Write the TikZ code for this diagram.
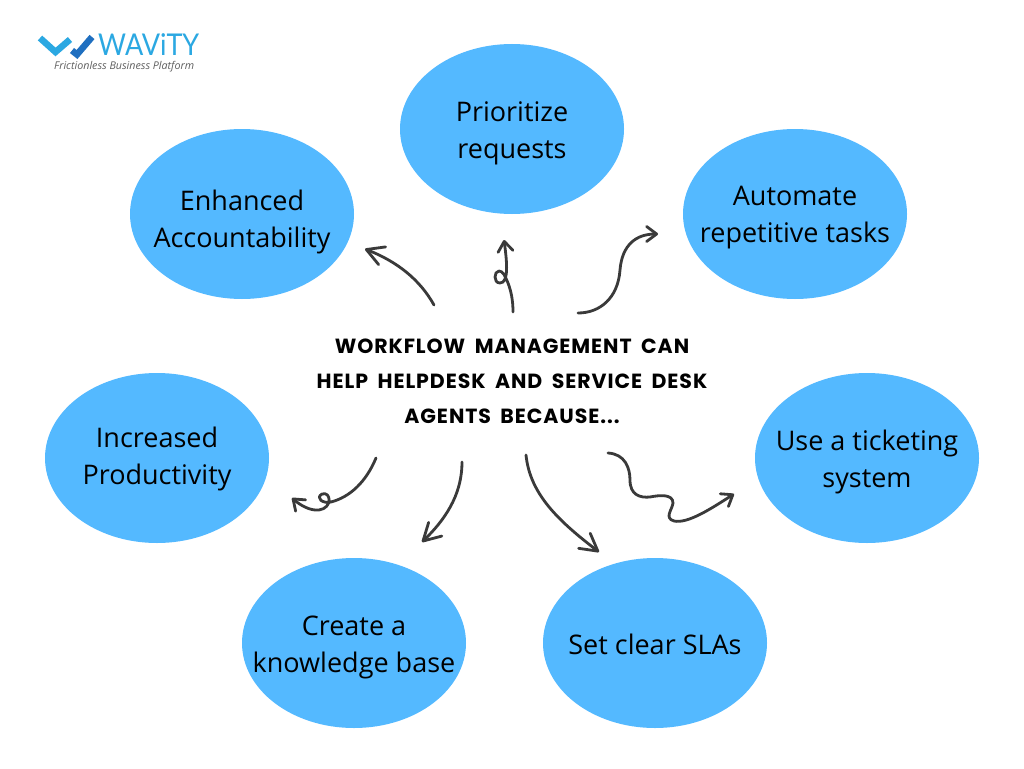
\documentclass[tikz,border=0pt]{standalone}
\usepackage{fontspec}
\setmainfont{Open Sans}
\newfontfamily\titlefont[LetterSpace=4.5,WordSpace=1.8]{Poppins}
\newfontfamily\logofont{Lato}
\usetikzlibrary{shapes.geometric,arrows.meta}
\definecolor{bubble}{HTML}{54B9FF}
\definecolor{ink}{HTML}{3A3A3A}
\definecolor{logolight}{HTML}{2BA8E2}
\definecolor{logodark}{HTML}{1F6FC0}
\definecolor{logogray}{HTML}{5F5F5F}
\newcommand{\bubbletext}[2]{\makebox[0pt]{\raisebox{\dimexpr-#1pt-9.7pt\relax}[0pt][0pt]{\begin{tabular}{@{}c@{}}#2\end{tabular}}}}
\tikzset{
  bubblenode/.style={ellipse,fill=bubble,minimum width=224pt,minimum height=170pt,inner sep=0pt,
    align=center,text=black,font=\fontsize{27}{37}\selectfont},
  flow/.style={draw=ink,line width=2.8pt,line cap=round,line join=round,
    -{Straight Barb[length=10pt,width=15pt,line width=2.8pt,round]}},
  flowbig/.style={draw=ink,line width=2.8pt,line cap=round,line join=round,
    -{Straight Barb[length=17pt,width=19pt,line width=2.8pt,round]}},
  logomark/.style={line width=6.5pt,line cap=butt,line join=miter}
}
\begin{document}
\begin{tikzpicture}[x=1pt,y=-1pt]
\useasboundingbox (0,0) rectangle (1024,768);
\fill[white] (0,0) rectangle (1024,768);
% bubbles
\node[bubblenode] (acc) at (242,214) {\bubbletext{4.5}{Enhanced\\Accountability}};
\node[bubblenode] (pri) at (512,129) {\bubbletext{0.5}{Prioritize\\requests}};
\node[bubblenode] (aut) at (795,214) {\bubbletext{-0.5}{Automate\\repetitive tasks}};
\node[bubblenode] (pro) at (157,458) {\bubbletext{-2.5}{Increased\\Productivity}};
\node[bubblenode] (tic) at (867,458) {\bubbletext{0.5}{Use a ticketing\\system}};
\node[bubblenode] (kno) at (354,643) {\bubbletext{0.5}{Create a\\knowledge base}};
\node[bubblenode] (sla) at (655,643) {\bubbletext{1}{Set clear SLAs}};
% title
\node[align=center,inner sep=0pt,text=black,font=\fontsize{20.5}{35}\selectfont\titlefont\bfseries] (title) at (512,381)
  {WORKFLOW MANAGEMENT CAN\\HELP HELPDESK AND SERVICE DESK\\AGENTS BECAUSE...};
% free ends
\coordinate (s1) at (434,305); \coordinate (e1) at (365,249);
\coordinate (s2) at (513,312); \coordinate (e2) at (504,240);
\coordinate (s3) at (578,313); \coordinate (e3) at (658,234);
\coordinate (s4) at (376,458); \coordinate (e4) at (292,498);
\coordinate (s5) at (462,462); \coordinate (e5) at (422,542);
\coordinate (s6) at (526,455); \coordinate (e6) at (599,552);
\coordinate (s7) at (608,453); \coordinate (e7) at (734,494);
% arrows
\draw[flowbig] (s1) .. controls (420,280) and (398,262) .. (e1);
\draw[flow] (s2) .. controls (513,300) and (511,291) .. (508,283)
  .. controls (505,276) and (503,271) .. (499,271)
  .. controls (494,271) and (493,283) .. (500,283)
  .. controls (509,283) and (507,262) .. (e2);
\draw[flow] (s3) .. controls (600,313) and (618,298) .. (620,270)
  .. controls (622,245) and (636,234) .. (e3);
\draw[flow] (s4) .. controls (366,482) and (350,497) .. (331,502)
  .. controls (323,504) and (315,498) .. (322,494)
  .. controls (331,491) and (333,508) .. (319,510)
  .. controls (310,511) and (300,505) .. (e4);
\draw[flowbig] (s5) .. controls (462,490) and (450,515) .. (e5);
\draw[flowbig] (s6) .. controls (530,495) and (560,522) .. (e6);
\draw[flow] (s7) .. controls (625,454) and (630,468) .. (630,480)
  .. controls (630,495) and (640,498) .. (650,497)
  .. controls (660,495) and (673,494) .. (673,503)
  .. controls (672,510) and (664,518) .. (674,521)
  .. controls (688,524) and (712,508) .. (e7);
% logo
\draw[logomark,logolight] (40,38) -- (55.5,52) -- (70,39.5);
\draw[logomark,logodark] (72,50.5) -- (77,54.5) -- (92,37);
\node[anchor=west,inner sep=0pt,text=logolight,font=\fontsize{30}{30}\selectfont\logofont] (brand) at (98,45) {\scalebox{.9}[1]{WAViTY}};
\node[anchor=west,inner sep=0pt,text=logogray,font=\fontsize{10.7}{11}\selectfont\itshape] (tag) at (54,67) {Frictionless Business Platform};
\end{tikzpicture}
\end{document}
